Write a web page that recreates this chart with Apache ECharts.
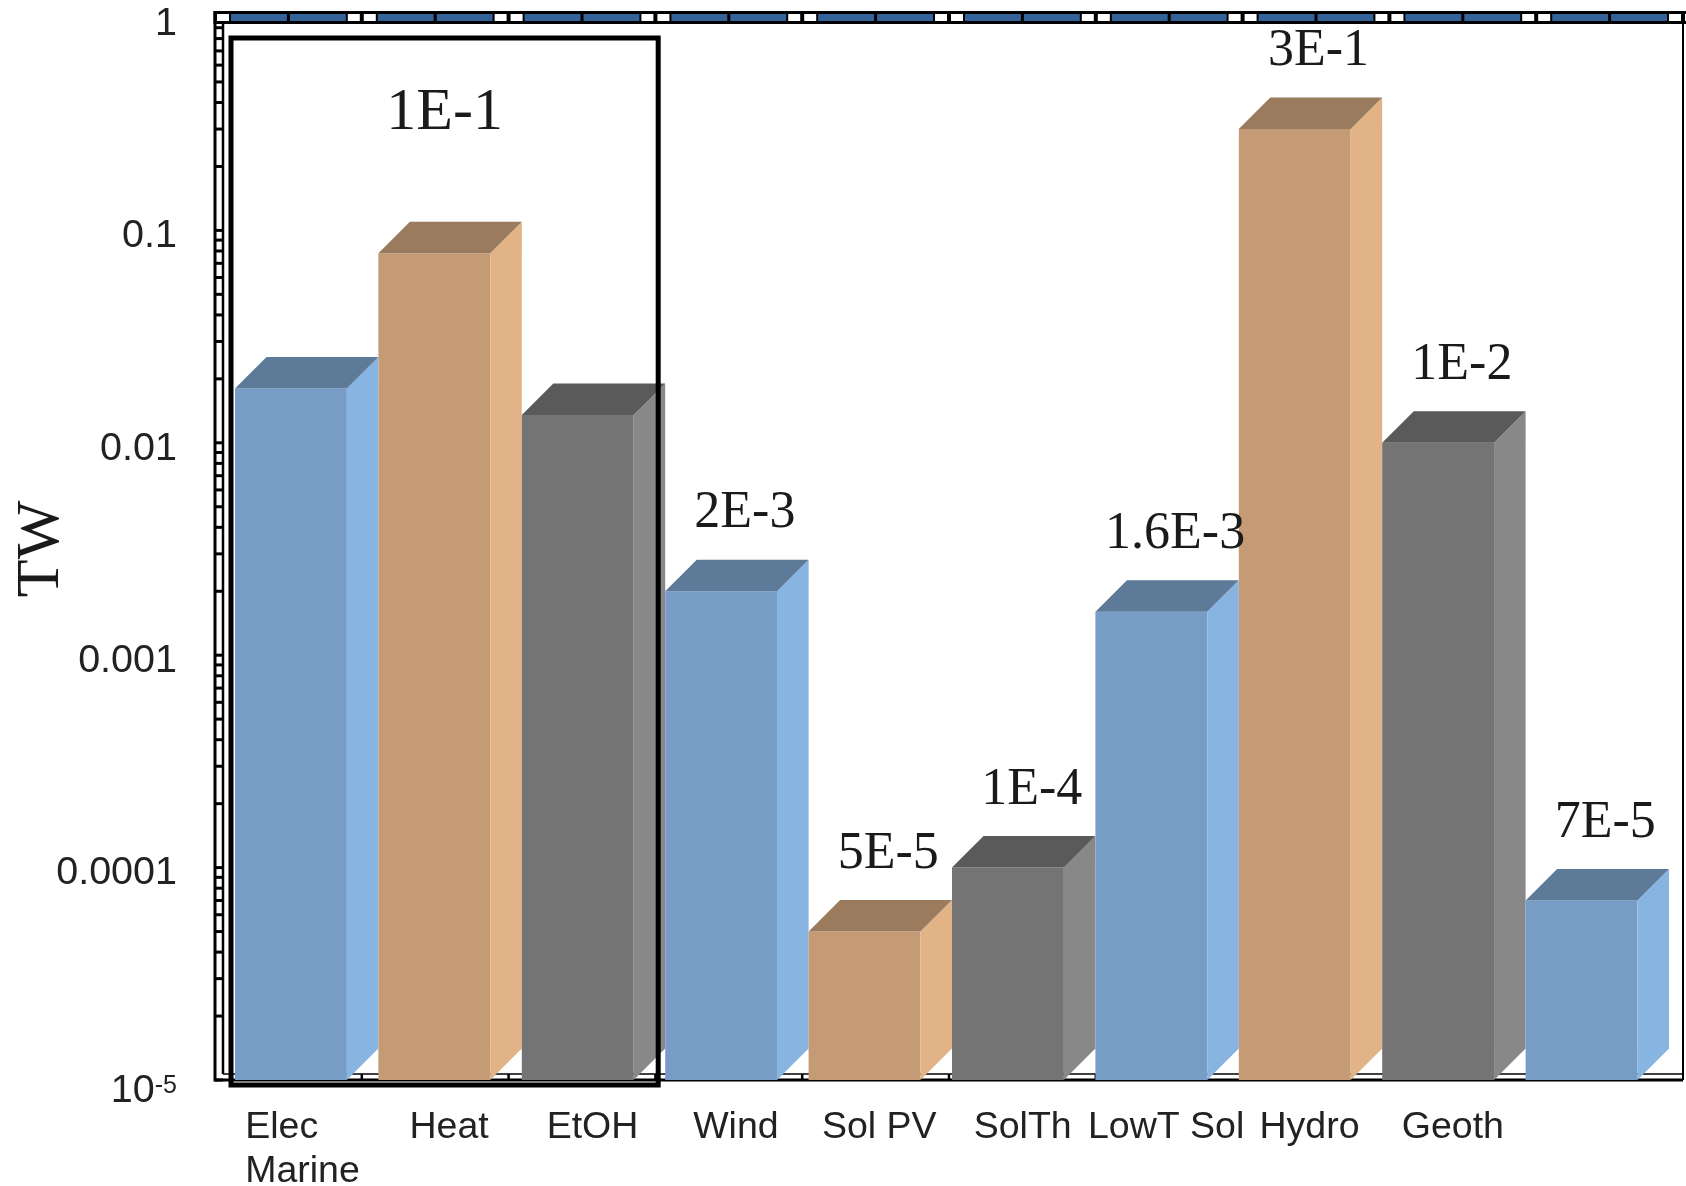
<!DOCTYPE html>
<html>
<head>
<meta charset="utf-8">
<script src="https://cdn.jsdelivr.net/npm/echarts@6/dist/echarts.min.js"></script>
<style>
  html, body { margin: 0; padding: 0; background: #ffffff; overflow: hidden; }
  #chart { width: 1686px; height: 1186px; }
</style>
</head>
<body>
<div id="chart"></div>
<script>
// ---- data ----
const categories = ['Elec\nMarine', 'Heat', 'EtOH', 'Wind', 'Sol PV', 'SolTh', 'LowT Sol', 'Hydro', 'Geoth', ''];
const powerTW = [0.018, 0.078, 0.0135, 0.002, 0.00005, 0.0001, 0.0016, 0.3, 0.01, 0.00007];
const showValue = [false, false, false, true, true, true, true, true, true, true];
const groupRange = [0, 2];
const groupLabel = '1E-1';
const yTickLabels = ['{b|10}{s|-5}', '0.0001', '0.001', '0.01', '0.1', '1'];
const Y_MIN = 1e-5;
const Y_MAX = 1;

// ---- styling ----
const SANS = '"Liberation Sans", Arial, sans-serif';
const SERIF = '"Liberation Serif", "Times New Roman", serif';
const INK = '#000000';
const TEXT = '#222222';
const STRIP_BLUE = '#34639a';
const PALETTE = [
  { front: '#779dc6', side: '#88b4e2', top: '#5d7a99' },   // blue
  { front: '#c49b74', side: '#e1b386', top: '#9a7b5d' },   // tan
  { front: '#747474', side: '#888888', top: '#5a5a5a' }    // grey
];

// log minor tick values (k * 10^e) for the ladder-style value axis
const ladderValues = [];
for (let e = Math.log10(Y_MIN); e < Math.log10(Y_MAX); e++) {
  for (let k = 1; k <= 9; k++) ladderValues.push(k * Math.pow(10, e));
}
ladderValues.push(Y_MAX);

function sci(v) {
  const e = Math.floor(Math.log10(v) + 1e-9);
  const m = Math.round(v / Math.pow(10, e) * 10) / 10;
  return (m % 1 === 0 ? m.toFixed(0) : m.toFixed(1)) + 'E' + e;
}

function rect(x, y, w, h, fill, z2) {
  return { type: 'rect', shape: { x: x, y: y, width: w, height: h }, style: { fill: fill }, z2: z2 || 0 };
}
function seg(x1, y1, x2, y2, w, z2) {
  return { type: 'line', shape: { x1: x1, y1: y1, x2: x2, y2: y2 }, style: { stroke: INK, lineWidth: w }, z2: z2 || 0 };
}

// frame: ladder axes on the left and bottom, banded strip across the top, right border
function renderFrame(params, api) {
  const cs = params.coordSys;
  const L = cs.x, R = cs.x + cs.width, T = cs.y, B = cs.y + cs.height;
  const band = api.size([1, 0])[0];
  const n = categories.length;
  const ch = [];
  const sTop = T - 7;
  ch.push(rect(L - 1.5, sTop, R + 20 - L, 13, INK, 1));
  for (let k = 0; k < n; k++) {
    const bs = L + k * band, be = bs + band, mid = bs + band / 2;
    ch.push(rect(bs + 16, sTop + 3, mid - 1.5 - (bs + 16), 7, STRIP_BLUE, 2));
    ch.push(rect(mid + 1.5, sTop + 3, be - 16 - (mid + 1.5), 7, STRIP_BLUE, 2));
  }
  for (let k = 0; k <= n; k++) {
    const b = L + k * band;
    if (k > 0) ch.push(rect(b - 14, sTop + 3, 12, 7, '#ffffff', 2));
    ch.push(rect(b + 2, sTop + 3, 12, 7, '#ffffff', 2));
  }
  const xo = L, xi = L + 8;
  ch.push(seg(xo, sTop, xo, B + 1.5, 3));
  ch.push(seg(xi, sTop + 13, xi, B - 6, 2.5));
  ladderValues.forEach(function (v) {
    const y = api.coord([0, v])[1];
    ch.push(seg(xo, y, xi, y, 3));
  });
  ch.push(seg(xo, B, R, B, 3));
  ch.push(seg(xi, B - 6, R, B - 6, 1.5));
  for (let j = 1; j < n * 2; j++) {
    const x = L + j * band / 2;
    ch.push(seg(x, B - 6, x, B, 2.5));
  }
  ch.push(seg(R, sTop + 13, R, B, 2));
  return { type: 'group', children: ch };
}

// 3D-style columns: front face, side face and top face
function renderBar(params, api) {
  const i = api.value(0);
  const v = api.value(1);
  const band = api.size([1, 0])[0];
  const c = api.coord([i, v]);
  const base = api.coord([i, Y_MIN])[1];
  const w = band * 0.78;
  const d = band * 0.22;
  const x0 = c[0] - band / 2 + 1;
  const top = c[1];
  const col = PALETTE[i % 3];
  const ch = [
    { type: 'rect', shape: { x: x0, y: top, width: w, height: base - top }, style: { fill: col.front } },
    { type: 'polygon', shape: { points: [[x0 + w, top], [x0 + w + d, top - d], [x0 + w + d, base - d], [x0 + w, base]] }, style: { fill: col.side } },
    { type: 'polygon', shape: { points: [[x0, top], [x0 + d, top - d], [x0 + w + d, top - d], [x0 + w, top]] }, style: { fill: col.top } }
  ];
  if (showValue[i]) {
    ch.push({
      type: 'text',
      style: {
        x: x0 + (w + d) / 2 + 8, y: top - d - 20,
        text: sci(v), fill: '#1a1a1a',
        font: '52px ' + SERIF,
        textAlign: 'center', textVerticalAlign: 'bottom'
      },
      z2: 5
    });
  }
  return { type: 'group', children: ch };
}

// outlined group of the first columns with its total
function renderGroup(params, api) {
  const a = api.value(0), b = api.value(1);
  const band = api.size([1, 0])[0];
  const x0 = api.coord([a, Y_MAX])[0] - band / 2 - 3;
  const x1 = api.coord([b, Y_MAX])[0] + band / 2 - 6;
  const yTop = params.coordSys.y + 20;
  const yBot = api.coord([a, Y_MIN])[1] + 5;
  return {
    type: 'group',
    children: [
      { type: 'rect', shape: { x: x0, y: yTop, width: x1 - x0, height: yBot - yTop }, style: { fill: 'none', stroke: INK, lineWidth: 5 }, z2: 10 },
      { type: 'text', style: { x: (x0 + x1) / 2, y: yTop + 75, text: groupLabel, fill: '#1a1a1a', font: '60px ' + SERIF, textAlign: 'center', textVerticalAlign: 'middle' }, z2: 10 }
    ]
  };
}

const chart = echarts.init(document.getElementById('chart'), null, { renderer: 'canvas' });
chart.setOption({
  animation: false,
  backgroundColor: '#ffffff',
  grid: [
    { left: 215, right: 3, top: 18, bottom: 106, containLabel: false, outerBoundsMode: 'none' },
    { left: 234, right: 18, top: 18, bottom: 106, containLabel: false, outerBoundsMode: 'none' }
  ],
  xAxis: [
    { gridIndex: 0, type: 'category', data: categories, axisLine: { show: false }, axisTick: { show: false }, axisLabel: { show: false }, splitLine: { show: false } },
    {
      gridIndex: 1, type: 'category', data: categories,
      axisLine: { show: false }, axisTick: { show: false }, splitLine: { show: false },
      axisLabel: {
        interval: 0, margin: 26, color: TEXT, fontFamily: SANS, fontSize: 37.5, lineHeight: 44,
        formatter: function (v) {
          return v.indexOf('\n') >= 0 ? v.split('\n').map(function (s) { return '{l|' + s + '}'; }).join('\n') : v;
        },
        rich: { l: { width: 121, align: 'left', color: TEXT, fontFamily: SANS, fontSize: 37.5, lineHeight: 44 } }
      }
    }
  ],
  yAxis: [
    {
      gridIndex: 0, type: 'log', logBase: 10, min: Y_MIN, max: Y_MAX, splitNumber: 5,
      axisLine: { show: false }, axisTick: { show: false }, splitLine: { show: false },
      axisLabel: {
        margin: 38, color: TEXT, fontFamily: SANS, fontSize: 39.5, padding: [12, 0, 0, 0],
        formatter: function (v) {
          const idx = Math.round(Math.log10(v) - Math.log10(Y_MIN));
          return yTickLabels[idx] !== undefined ? yTickLabels[idx] : '';
        },
        rich: {
          b: { color: TEXT, fontFamily: SANS, fontSize: 39.5, lineHeight: 44, padding: [10, 0, 0, 0] },
          s: { color: TEXT, fontFamily: SANS, fontSize: 25, lineHeight: 14, verticalAlign: 'top', padding: [10, 0, 0, 0] }
        }
      },
      name: 'TW', nameLocation: 'middle', nameGap: 142, nameRotate: 90, nameMoveOverlap: false,
      nameTextStyle: { fontFamily: SERIF, fontSize: 62, color: '#1a1a1a' }
    },
    { gridIndex: 1, type: 'log', logBase: 10, min: Y_MIN, max: Y_MAX, show: false }
  ],
  series: [
    { type: 'custom', name: 'frame', xAxisIndex: 0, yAxisIndex: 0, clip: false, silent: true, renderItem: renderFrame, data: [[0, Y_MAX]], z: 1 },
    { type: 'custom', name: 'TW', xAxisIndex: 1, yAxisIndex: 1, clip: false, renderItem: renderBar, data: powerTW.map(function (v, i) { return [i, v]; }), z: 2 },
    { type: 'custom', name: 'group', xAxisIndex: 1, yAxisIndex: 1, clip: false, silent: true, renderItem: renderGroup, encode: { x: [0, 1] }, data: [[groupRange[0], groupRange[1]]], z: 3 }
  ]
});
</script>
</body>
</html>
